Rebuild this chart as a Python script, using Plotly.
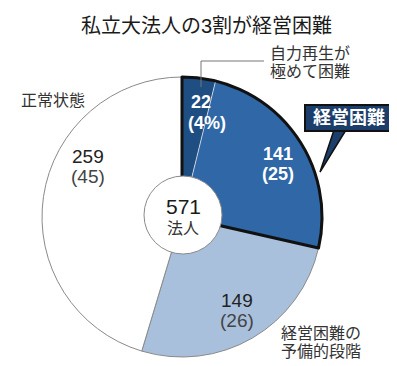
import plotly.graph_objects as go

# ---- data ----
categories = ["自力再生が極めて困難", "経営困難", "経営困難の予備的段階", "正常状態"]
counts = [22, 141, 149, 259]
shares = [4, 25, 26, 45]
total = 571
title = "私立大法人の3割が経営困難"

W, H = 397, 366
CX, CY, R = 174, 209, 140

def px(x):
    return x / W

def py(y):
    return 1 - y / H

FONT = "Liberation Sans, Arial, Noto Sans CJK JP, sans-serif"
dom_x = [px(CX - R), px(CX + R)]
dom_y = [py(CY + R), py(CY - R)]

fig = go.Figure()
fig.add_trace(go.Pie(
    values=counts, labels=categories, sort=False, direction="clockwise", rotation=0,
    domain=dict(x=dom_x, y=dom_y),
    marker=dict(colors=["#1f4e83", "#2f67a7", "#a9c0dc", "#ffffff"],
                line=dict(color=["#111111", "#c9dcf0", "#8a8a8a", "#8a8a8a"], width=[1, 1, 1, 1])),
    textinfo="none", hoverinfo="none", showlegend=False,
))
# thick black outline around the combined "経営困難" group
grouped = [counts[0] + counts[1], counts[2], counts[3]]
fig.add_trace(go.Pie(
    values=grouped, sort=False, direction="clockwise", rotation=0,
    domain=dict(x=dom_x, y=dom_y),
    marker=dict(colors=["rgba(0,0,0,0)"] * 3,
                line=dict(color=["#111111", "rgba(0,0,0,0)", "rgba(0,0,0,0)"], width=[3, 0, 0])),
    textinfo="none", hoverinfo="none", showlegend=False,
))

shapes = []
# centre circle
shapes.append(dict(type="circle", xref="paper", yref="paper", xsizemode="pixel", ysizemode="pixel",
                   xanchor=px(175), yanchor=py(207), x0=-39, x1=39, y0=-39, y1=39,
                   fillcolor="white", line=dict(color="#8a8a8a", width=1), layer="above"))
# leader line for 自力再生が極めて困難
shapes.append(dict(type="path", xref="paper", yref="paper",
                   path=f"M {px(256)},{py(53)} L {px(193)},{py(53)} L {px(193)},{py(79)}",
                   line=dict(color="#777777", width=1), layer="above"))
# callout tail
shapes.append(dict(type="path", xref="paper", yref="paper",
                   path=f"M {px(326)},{py(122)} L {px(312)},{py(164)} L {px(338)},{py(122)} Z",
                   fillcolor="#1c3e6b", line=dict(color="#111111", width=1.5), layer="above"))
# callout box
shapes.append(dict(type="rect", xref="paper", yref="paper",
                   x0=px(297), x1=px(385), y0=py(123), y1=py(97),
                   fillcolor="#1c3e6b", line=dict(color="#111111", width=2), layer="above"))

ann = []
def add(text, x, y, size, color="#222222", xanchor="center", bold=False):
    ann.append(dict(text=f"<b>{text}</b>" if bold else text, x=px(x), y=py(y), xref="paper", yref="paper",
                    xanchor=xanchor, yanchor="middle", showarrow=False, align="left" if xanchor == "left" else "center",
                    font=dict(size=size, color=color, family=FONT)))

add(title, 198, 18, 20, "#1a1a1a")
add("自力再生が", 260, 45, 16, "#333333", xanchor="left")
add("極めて困難", 260, 64, 16, "#333333", xanchor="left")
add(f"{counts[0]}", 193, 94, 18, "white", bold=True)
add(f"({shares[0]}%)", 199, 115, 18, "white", bold=True)
add(categories[1], 341, 110, 18, "white", bold=True)
add(f"{counts[1]}", 270, 146, 18, "white", bold=True)
add(f"({shares[1]})", 270, 166, 18, "white", bold=True)
add(f"{counts[2]}", 229, 292, 19, "#222222")
add(f"({shares[2]})", 229, 312, 19, "#444444")
add("経営困難の", 271, 325, 16, "#333333", xanchor="left")
add("予備的段階", 271, 343, 16, "#333333", xanchor="left")
add(categories[3], 45, 93, 16, "#333333")
add(f"{counts[3]}", 80, 148, 19, "#222222")
add(f"({shares[3]})", 80, 168, 19, "#444444")
add(f"{total}", 175, 198, 21, "#1a1a1a")
add("法人", 175, 220, 16, "#333333")

fig.update_layout(width=W, height=H, margin=dict(l=0, r=0, t=0, b=0),
                  paper_bgcolor="white", plot_bgcolor="white",
                  shapes=shapes, annotations=ann, showlegend=False)
fig.write_html("out.html")
